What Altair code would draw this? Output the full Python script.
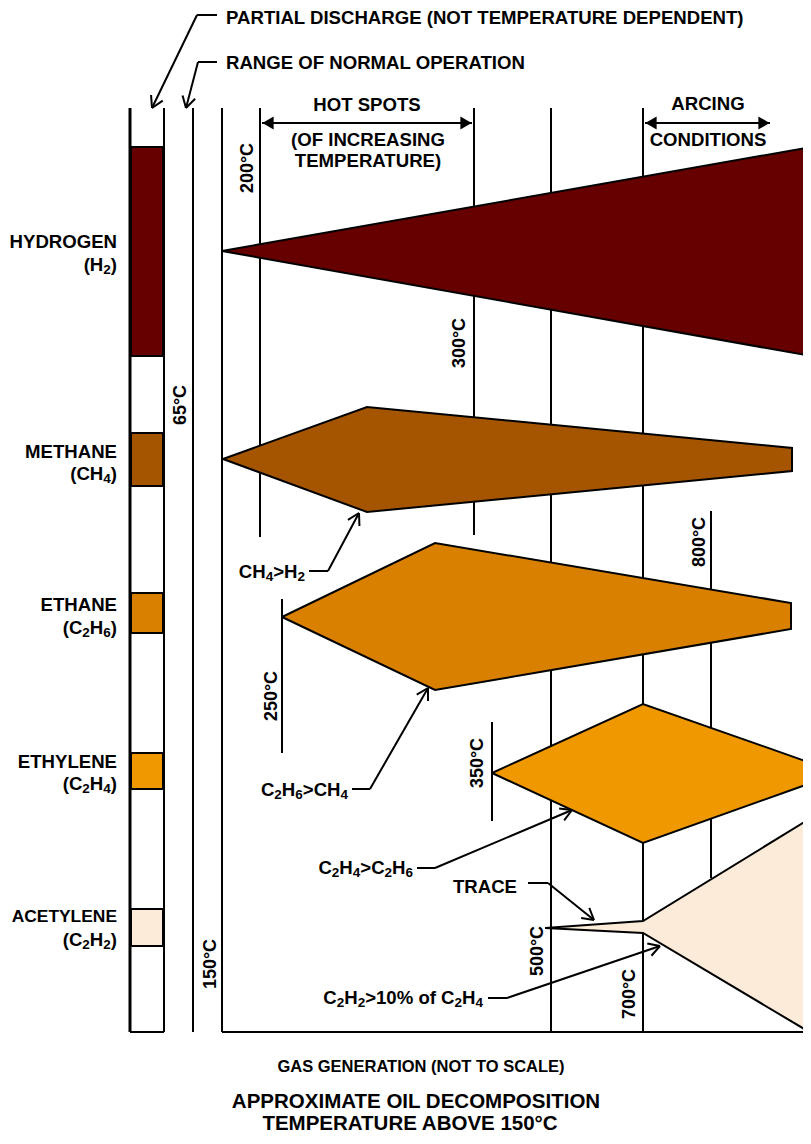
import math
import altair as alt
import pandas as pd

# ---------------- data ----------------
GAS_NAMES = ["HYDROGEN", "METHANE", "ETHANE", "ETHYLENE", "ACETYLENE"]
GAS_FORMULAS = ["(H\u2082)", "(CH\u2084)", "(C\u2082H\u2086)", "(C\u2082H\u2084)", "(C\u2082H\u2082)"]
GAS_COLORS = ["#660000", "#A55500", "#D98000", "#F09800", "#FCEBD8"]
BAND_TOP = [147, 433, 593, 753, 909]
BAND_BOTTOM = [356, 486, 633, 789, 946]
NAME_Y = [242, 452, 605, 762, 917]
FORMULA_Y = [265, 474, 628, 784, 940]

# gas-generation envelopes: x = temperature position, y = row position
H2_X = [222, 811, 811]
H2_Y = [251, 147, 356]
CH4_X = [223, 367, 792, 792, 367]
CH4_Y = [459, 407, 448, 471, 512]
C2H6_X = [282, 435, 791, 791, 435]
C2H6_Y = [617, 543, 603, 629, 690]
C2H4_X = [492, 643, 811, 811, 643]
C2H4_Y = [773, 704, 763, 783, 843]
C2H2_X = [545, 643, 811, 811, 643]
C2H2_Y = [928, 921, 818, 1033, 933]
ENVELOPES = [(H2_X, H2_Y), (CH4_X, CH4_Y), (C2H6_X, C2H6_Y), (C2H4_X, C2H4_Y), (C2H2_X, C2H2_Y)]

# temperature marker lines and labels
TEMP_LABELS = ["65°C", "150°C", "200°C", "250°C", "300°C", "350°C", "500°C", "700°C", "800°C"]
TEMP_LINE_X = [193, 222, 260, 282, 474, 492, 551, 643, 711]
TEMP_LINE_TOP = [108, 108, 108, 599, 108, 722, 108, 108, 511]
TEMP_LINE_BOTTOM = [1032, 1032, 537, 753, 535, 821, 1032, 1032, 878]
TEMP_LABEL_X = [181, 211, 248, 272, 460, 478, 538, 630, 700]
TEMP_LABEL_Y = [405, 964, 168, 696, 343, 763, 951, 994, 542]

# left column (partial discharge) and base lines
COLUMN_X = [130, 164]
BASE_X1 = [130, 222]
BASE_X2 = [164, 811]
BASE_Y = 1032
LINE_TOP = 108

# range arrows (HOT SPOTS, ARCING)
RANGE_X1 = [262, 645]
RANGE_X2 = [472, 770]
RANGE_Y = [123, 123]
RANGE_TEXT = ["HOT SPOTS", "(OF INCREASING", "TEMPERATURE)", "ARCING", "CONDITIONS"]
RANGE_TEXT_X = [367, 368, 368, 708, 708]
RANGE_TEXT_Y = [105, 140, 161, 104, 140]

# top captions with leader arrows
TOP_TEXT = ["PARTIAL DISCHARGE (NOT TEMPERATURE DEPENDENT)", "RANGE OF NORMAL OPERATION"]
TOP_TEXT_X = [226, 226]
TOP_TEXT_Y = [18, 63]
TOP_LEADERS = [
    [(217, 15), (197, 15), (152, 108)],
    [(217, 62), (198, 62), (186, 108)],
]

# in-plot annotations with leader arrows
NOTE_TEXT = ["CH\u2084>H\u2082", "C\u2082H\u2086>CH\u2084", "C\u2082H\u2084>C\u2082H\u2086", "TRACE",
             "C\u2082H\u2082>10% of C\u2082H\u2084"]
NOTE_X = [305, 348, 413, 517, 483]
NOTE_Y = [572, 790, 868, 887, 998]
NOTE_LEADERS = [
    [(309, 571), (328, 571), (359, 513)],
    [(352, 789), (370, 789), (428, 688)],
    [(417, 868), (435, 868), (572, 810)],
    [(528, 883), (548, 883), (594, 920)],
    [(488, 998), (507, 998), (660, 946)],
]

BOTTOM_TEXT = ["GAS GENERATION (NOT TO SCALE)", "APPROXIMATE OIL DECOMPOSITION", "TEMPERATURE ABOVE 150°C"]
BOTTOM_X = [421, 416, 410]
BOTTOM_Y = [1067, 1102, 1124]

# ---------------- chart ----------------
X0, Y0 = 8, 8
W, H = 795, 1128
XS = alt.Scale(domain=[X0, X0 + W], nice=False, zero=False)
YS = alt.Scale(domain=[Y0, Y0 + H], nice=False, zero=False, reverse=True)
FONT = "Liberation Sans, Arial, Helvetica, sans-serif"
FS = 18.6      # main text size
SUB_FS = 13.5  # subscript size
SUB_DY = 4.5   # subscript drop

# Arial/Liberation Sans Bold advance widths (per 1000 em)
ADV = {"(": 333, ")": 333, "C": 722, "H": 722, ">": 584, "%": 889, "o": 611, "f": 333,
       " ": 278, "T": 611, "R": 722, "A": 722, "E": 667}
for d in "0123456789":
    ADV[d] = 556
SUBS = {"\u2080": "0", "\u2081": "1", "\u2082": "2", "\u2083": "3", "\u2084": "4",
        "\u2085": "5", "\u2086": "6", "\u2087": "7", "\u2088": "8", "\u2089": "9"}


def X(f):
    return alt.X(f"{f}:Q", scale=XS, axis=None)


def Y(f):
    return alt.Y(f"{f}:Q", scale=YS, axis=None)


def segs_chart(segs, width=2.0):
    df = pd.DataFrame(segs, columns=["x1", "y1", "x2", "y2"])
    return alt.Chart(df).mark_rule(color="black", strokeWidth=width, strokeCap="butt").encode(
        x=X("x1"), y=Y("y1"), x2=alt.X2("x2:Q"), y2=alt.Y2("y2:Q"))


def open_head(tip, prev, L=13.0, ang=math.radians(30)):
    ux, uy = prev[0] - tip[0], prev[1] - tip[1]
    n = math.hypot(ux, uy)
    ux, uy = ux / n, uy / n
    out = []
    for s in (1, -1):
        c, si = math.cos(s * ang), math.sin(s * ang)
        rx, ry = ux * c - uy * si, ux * si + uy * c
        out.append((tip[0], tip[1], tip[0] + L * rx, tip[1] + L * ry))
    return out


def leader_segments(paths):
    segs = []
    for p in paths:
        for a, b in zip(p[:-1], p[1:]):
            segs.append((a[0], a[1], b[0], b[1]))
        segs += open_head(p[-1], p[-2])
    return segs


def text_chart(xs, ys, texts, **kw):
    df = pd.DataFrame({"x": xs, "y": ys, "t": texts})
    base = dict(font=FONT, fontWeight="bold", fontSize=FS, color="black", baseline="middle")
    base.update(kw)
    return alt.Chart(df).mark_text(**base).encode(x=X("x"), y=Y("y"), text="t:N")


def formula_runs(right_xs, ys, labels):
    """Split chemical labels into normal / subscript runs, right-aligned at right_xs."""
    main, sub = [], []
    for rx, y, lab in zip(right_xs, ys, labels):
        runs = []
        for ch in lab:
            is_sub = ch in SUBS
            c = SUBS.get(ch, ch)
            if runs and runs[-1][1] == is_sub:
                runs[-1][0] += c
            else:
                runs.append([c, is_sub])
        widths = [sum(ADV.get(c, 600) for c in r) * (SUB_FS if s else FS) / 1000 for r, s in runs]
        x = rx - sum(widths)
        for (r, s), w in zip(runs, widths):
            (sub if s else main).append((x, y + (SUB_DY if s else 0), r))
            x += w
    m = pd.DataFrame(main, columns=["x", "y", "t"])
    s = pd.DataFrame(sub, columns=["x", "y", "t"])
    return [
        text_chart(list(m.x), list(m.y), list(m.t), align="left"),
        text_chart(list(s.x), list(s.y), list(s.t), align="left", fontSize=SUB_FS),
    ]


layers = []

# left column bands
bands = pd.DataFrame({"x1": [131] * 5, "x2": [163] * 5, "y1": BAND_TOP, "y2": BAND_BOTTOM,
                      "gas": GAS_NAMES})
layers.append(alt.Chart(bands).mark_rect(stroke="black", strokeWidth=2).encode(
    x=X("x1"), x2=alt.X2("x2:Q"), y=Y("y1"), y2=alt.Y2("y2:Q"),
    fill=alt.Fill("gas:N", scale=alt.Scale(domain=GAS_NAMES, range=GAS_COLORS), legend=None)))

# vertical lines
vlines = [(x, LINE_TOP, x, BASE_Y) for x in COLUMN_X]
vlines += [(x, t, x, b) for x, t, b in zip(TEMP_LINE_X, TEMP_LINE_TOP, TEMP_LINE_BOTTOM)]
layers.append(segs_chart(vlines, 2.0))
layers.append(segs_chart([(COLUMN_X[0], LINE_TOP, COLUMN_X[0], BASE_Y)], 3.0))
# base lines
layers.append(segs_chart([(a, BASE_Y, b, BASE_Y) for a, b in zip(BASE_X1, BASE_X2)], 2.0))

# gas envelopes
for (xs, ys), col in zip(ENVELOPES, GAS_COLORS):
    df = pd.DataFrame({"i": list(range(len(xs) + 1)), "x": xs + [xs[0]], "y": ys + [ys[0]]})
    layers.append(alt.Chart(df).mark_line(fill=col, stroke="black", strokeWidth=2,
                                          strokeJoin="miter", clip=True).encode(
        x=X("x"), y=Y("y"), order=alt.Order("i:Q")))

# range arrows
layers.append(segs_chart([(a, y, b, y) for a, b, y in zip(RANGE_X1, RANGE_X2, RANGE_Y)], 2.0))
heads = pd.DataFrame({
    "x": [a + 6 for a in RANGE_X1] + [b - 6 for b in RANGE_X2],
    "y": RANGE_Y + RANGE_Y,
    "shape": ["triangle-left"] * 2 + ["triangle-right"] * 2,
})
layers.append(alt.Chart(heads).mark_point(filled=True, color="black", size=170, opacity=1).encode(
    x=X("x"), y=Y("y"), shape=alt.Shape("shape:N", scale=None)))

# leaders
layers.append(segs_chart(leader_segments(TOP_LEADERS), 2.0))
layers.append(segs_chart(leader_segments(NOTE_LEADERS), 2.0))

# texts
layers.append(text_chart(TOP_TEXT_X, TOP_TEXT_Y, TOP_TEXT, align="left"))
layers.append(text_chart(RANGE_TEXT_X, RANGE_TEXT_Y, RANGE_TEXT, align="center"))
layers.append(text_chart([117] * 4, NAME_Y[:4], GAS_NAMES[:4], align="right"))
layers.append(text_chart([117], NAME_Y[4:], GAS_NAMES[4:], align="right", fontSize=17.4))
layers += formula_runs([117] * 5, FORMULA_Y, GAS_FORMULAS)
layers.append(text_chart(TEMP_LABEL_X, TEMP_LABEL_Y, TEMP_LABELS, align="center", angle=270,
                         fontSize=18))
layers += formula_runs(NOTE_X, NOTE_Y, NOTE_TEXT)
layers.append(text_chart(BOTTOM_X[:1], BOTTOM_Y[:1], BOTTOM_TEXT[:1], align="center", fontSize=16.5))
layers.append(text_chart(BOTTOM_X[1:], BOTTOM_Y[1:], BOTTOM_TEXT[1:], align="center", fontSize=20.5))

chart = alt.layer(*layers).properties(
    width=W, height=H, padding=0, autosize=alt.AutoSizeParams(type="none")
).configure_view(stroke=None)

chart.save("out.html", embed_options={"renderer": "svg", "actions": False})
